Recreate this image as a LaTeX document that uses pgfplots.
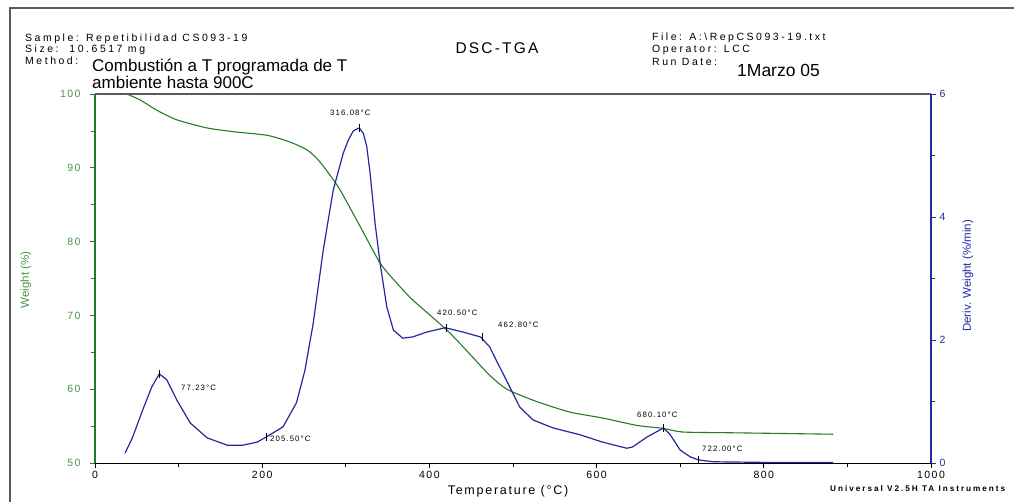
\documentclass[border=0pt]{standalone}
\usepackage{fontspec}
\setmainfont{Liberation Sans}
\newfontfamily\spaced[LetterSpace=14]{Liberation Sans}
\newfontfamily\spacedwide[LetterSpace=24]{Liberation Sans}
\usepackage{pgfplots}
\pgfplotsset{compat=1.18}

\definecolor{tgagreen}{RGB}{35,125,40}
\definecolor{labgreen}{RGB}{70,150,70}
\definecolor{dtgblue}{RGB}{35,40,160}
\definecolor{frame}{RGB}{90,90,90}

\pgfplotstableread{
T W
38 100
54 99.2
74 97.8
98 96.5
134 95.4
165 94.9
206 94.4
233 93.5
254 92.4
269 90.8
291 87.4
316 82.3
341 77.1
360 74.5
380 72.1
421 68.0
448 64.8
461 63.2
472 61.9
484 60.7
496 59.8
529 58.3
568 56.9
607 56.1
648 55.1
679 54.7
703 54.2
759 54.1
823 54.0
883 53.9
}\weight

\pgfplotstableread{
T D
36 0.16
45 0.42
57 0.86
68 1.24
77 1.45
86 1.35
98 1.02
114 0.65
134 0.41
158 0.29
177 0.29
194 0.34
207 0.44
225 0.59
241 0.98
251 1.50
261 2.27
273 3.46
285 4.44
297 5.04
303 5.25
309 5.40
316 5.45
321 5.36
325 5.15
329 4.72
335 3.90
341 3.25
349 2.54
357 2.16
368 2.03
380 2.05
397 2.13
419 2.20
440 2.13
461 2.05
472 1.89
480 1.67
496 1.24
508 0.91
524 0.70
548 0.57
580 0.46
607 0.34
636 0.24
643 0.26
660 0.42
680 0.57
688 0.46
700 0.21
712 0.10
722 0.05
740 0.02
800 0.01
883 0.01
}\deriv

\begin{document}
\begin{tikzpicture}
\useasboundingbox (0,0) rectangle (1014pt,-501pt);
\draw[frame, line width=1.2pt] (10pt,-503pt) -- (10pt,-8pt) -- (1016pt,-8pt);

% header
\begin{scope}[every node/.style={anchor=west, inner sep=0pt, font=\spacedwide\fontsize{10.5}{11}\selectfont}]
\node at (25pt,-39pt) {Sample: Repetibilidad CS093-19};
\node at (25pt,-50pt) {Size:~~10.6517 mg};
\node at (25pt,-61pt) {Method:};
\node at (652pt,-38pt) {File: A:\textbackslash RepCS093-19.txt};
\node at (652pt,-50pt) {Operator: LCC};
\node at (652pt,-62pt) {Run Date:};
\end{scope}
\node[anchor=west, inner sep=0pt, font=\fontsize{17}{19}\selectfont] at (92pt,-67pt) {Combustión a T programada de T};
\node[anchor=west, inner sep=0pt, font=\fontsize{17}{19}\selectfont] at (92pt,-82pt) {ambiente hasta 900C};
\node[anchor=west, inner sep=0pt, font=\fontsize{17.5}{19}\selectfont] at (737pt,-70pt) {1Marzo 05};
\node[inner sep=0pt, font=\spaced\fontsize{15.5}{17}\selectfont] at (497pt,-48pt) {DSC-TGA};

% weight axis
\begin{axis}[
  at={(95pt,-463pt)}, anchor=south west,
  scale only axis, width=836pt, height=369pt,
  xmin=0, xmax=1000, ymin=50, ymax=100,
  axis y line*=left, axis x line*=bottom,
  axis line style={-},
  x axis line style={black, line width=0.8pt},
  y axis line style={tgagreen, line width=1.2pt},
  xtick={0,200,...,1000}, minor xtick={100,300,...,900},
  ytick={50,60,...,100}, minor ytick={55,65,...,95},
  tick align=outside, major tick length=5pt, minor tick length=4pt,
  x tick style={black, line width=0.8pt},
  y tick style={tgagreen, line width=0.8pt},
  /pgf/number format/assume math mode=true,
  /pgf/number format/1000 sep={},
  ticklabel style={font=\spaced\fontsize{10.5}{11}\selectfont},
  yticklabel style={labgreen, xshift=-6pt},
  xticklabel style={black},
]
\addplot[tgagreen, line width=1.1pt, smooth, tension=0.4] table[x=T, y=W] {\weight};
\end{axis}

% derivative axis
\begin{axis}[
  at={(95pt,-463pt)}, anchor=south west,
  scale only axis, width=836pt, height=369pt,
  xmin=0, xmax=1000, ymin=0, ymax=6,
  axis y line*=right, axis x line*=top,
  axis line style={-},
  x axis line style={frame, line width=1.2pt},
  y axis line style={dtgblue, line width=1.2pt},
  xtick=\empty,
  ytick={0,2,4,6}, minor ytick={1,3,5},
  tick align=outside, major tick length=5pt, minor tick length=4pt,
  y tick style={dtgblue, line width=0.8pt},
  /pgf/number format/assume math mode=true,
  ticklabel style={font=\spaced\fontsize{10.5}{11}\selectfont, dtgblue},
]
\addplot[dtgblue, line width=1.2pt] table[x=T, y=D] {\deriv};
\addplot[only marks, mark=|, mark size=4pt, black, mark options={line width=0.7pt}]
  coordinates {(77.23,1.45) (205.5,0.43) (316.08,5.45) (420.5,2.20) (462.8,2.05) (680.1,0.57) (722,0.05)};
\end{axis}

% annotations
\begin{scope}[every node/.style={anchor=west, inner sep=0pt, font=\spaced\fontsize{7.8}{8}\selectfont}]
\node at (181pt,-388pt) {77.23°C};
\node at (270pt,-439pt) {205.50°C};
\node at (330pt,-113pt) {316.08°C};
\node at (437pt,-313pt) {420.50°C};
\node at (498pt,-325pt) {462.80°C};
\node at (637pt,-415pt) {680.10°C};
\node at (702pt,-449pt) {722.00°C};
\end{scope}

% axis titles
\node[inner sep=0pt, font=\spaced\fontsize{12.5}{13}\selectfont] at (508pt,-491pt) {Temperature (°C)};
\node[inner sep=0pt, rotate=90, labgreen, font=\fontsize{11.5}{12}\selectfont] at (26pt,-280pt) {Weight (\%)};
\node[inner sep=0pt, rotate=90, dtgblue, font=\fontsize{11.5}{12}\selectfont] at (968pt,-276pt) {Deriv. Weight (\%/min)};
\node[anchor=west, inner sep=0pt, font=\spacedwide\bfseries\fontsize{8.2}{9}\selectfont] at (830pt,-489pt) {Universal V2.5H TA Instruments};
\end{tikzpicture}
\end{document}
